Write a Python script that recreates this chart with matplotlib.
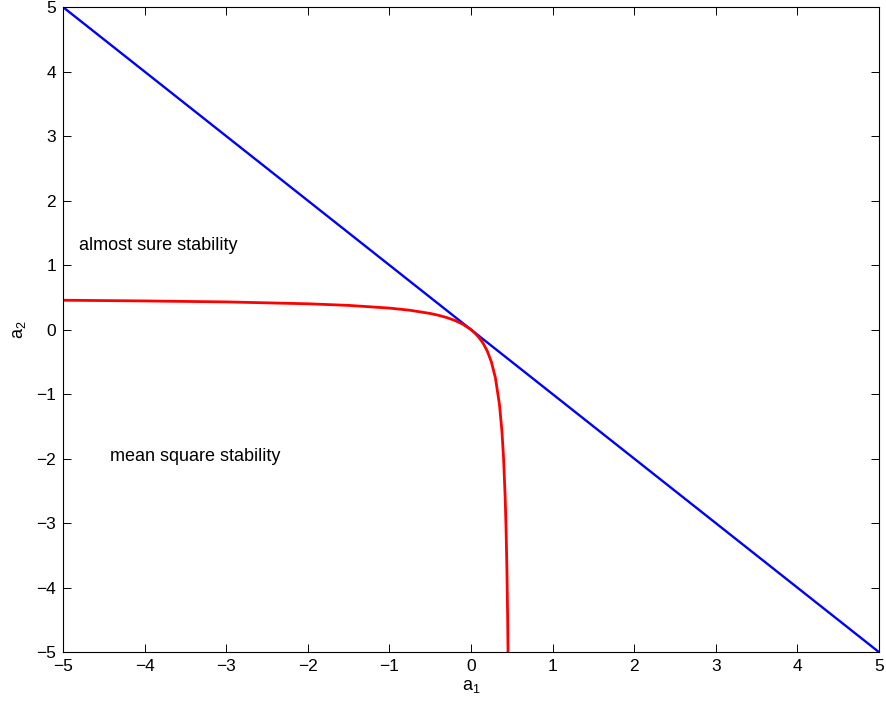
import matplotlib.pyplot as plt

plt.rcParams['font.family'] = ['Liberation Sans', 'DejaVu Sans']
plt.rcParams['mathtext.default'] = 'regular'

# boundary lines
blue_x = [-5, 5]
blue_y = [5, -5]

red_x = [-5.0, -4.0, -3.0, -2.0, -1.5, -1.0, -0.75, -0.5, -0.4, -0.3, -0.2, -0.1,
         0.0, 0.05, 0.1, 0.15, 0.2, 0.25, 0.3, 0.35, 0.38, 0.4, 0.42, 0.43, 0.44,
         0.45, 0.4545]
red_y = [0.455, 0.444, 0.429, 0.40, 0.375, 0.333, 0.30, 0.25, 0.222, 0.1875, 0.143,
         0.083, 0.0, -0.056, -0.125, -0.214, -0.333, -0.5, -0.75, -1.167, -1.583,
         -2.0, -2.625, -3.071, -3.667, -4.5, -5.0]

ticks = [-5, -4, -3, -2, -1, 0, 1, 2, 3, 4, 5]

fig = plt.figure(figsize=(8.86, 7.08), dpi=100)
ax = fig.add_axes([0.0711, 0.079, 0.9209, 0.911])

ax.plot(blue_x, blue_y, color='#0000ff', lw=1.7)
ax.plot(red_x, red_y, color='#ff0000', lw=2.0)

ax.text(-4.8, 1.3, 'almost sure stability', fontsize=13, va='center', ha='left')
ax.text(-4.42, -1.97, 'mean square stability', fontsize=13, va='center', ha='left')

ax.set_xlim(-5, 5)
ax.set_ylim(-5, 5)
ax.set_xticks(ticks)
ax.set_yticks(ticks)
ax.set_xticklabels([str(t).replace('-', '\u2212') for t in ticks])
ax.set_yticklabels([str(t).replace('-', '\u2212') for t in ticks])
ax.tick_params(direction='in', top=True, right=True, length=6, width=0.7,
               labelsize=12.5, pad=5)
for s in ax.spines.values():
    s.set_linewidth(0.8)

ax.set_xlabel('a$_1$', fontsize=13, labelpad=3)
ax.set_ylabel('a$_2$', fontsize=13, labelpad=6)

fig.savefig('out.png', dpi=100)
